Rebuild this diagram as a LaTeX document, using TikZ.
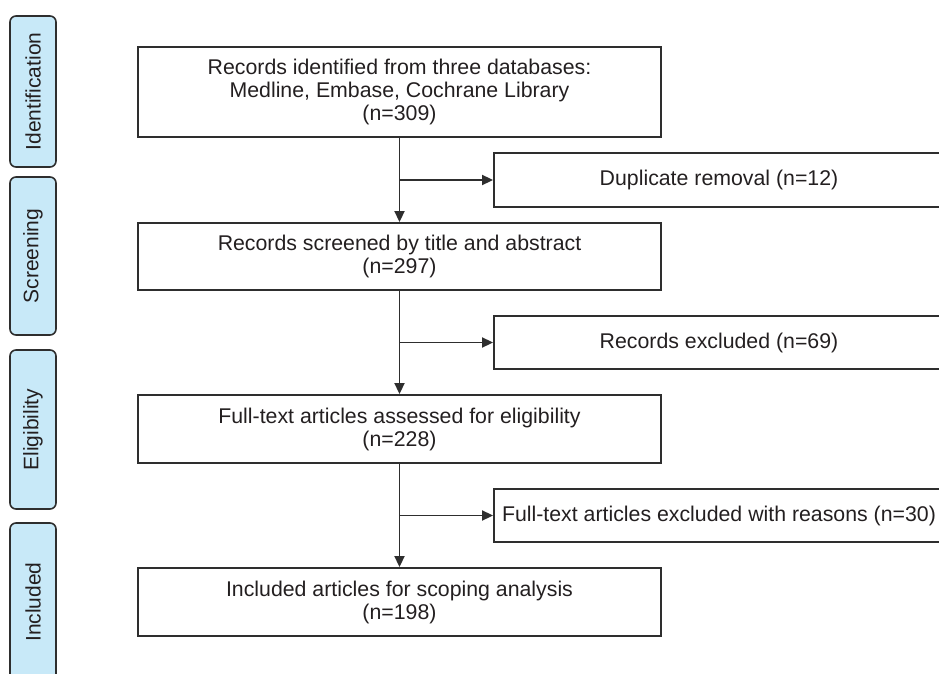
\documentclass[tikz,border=0pt]{standalone}
\usepackage{fontspec}
\setmainfont{Liberation Sans}
\usetikzlibrary{arrows.meta}
\definecolor{tabfill}{HTML}{C8E9F8}
\definecolor{linecol}{HTML}{2E2E2E}
\definecolor{txtcol}{HTML}{231F20}
\tikzset{
  box/.style={draw=linecol, line width=1.9pt, rectangle, align=center, inner sep=0pt,
    minimum width=523pt, text=txtcol, font=\fontsize{21.3}{23}\selectfont},
  sidebox/.style={draw=linecol, line width=1.9pt, rectangle, align=center, inner sep=0pt,
    minimum width=450pt, minimum height=54pt, text=txtcol, font=\fontsize{21.3}{23}\selectfont},
  phasetab/.style={draw=linecol, line width=1.6pt, fill=tabfill, rounded corners=6pt, rotate=90,
    inner sep=0pt, minimum height=46pt, text=txtcol, font=\fontsize{21}{23}\selectfont},
  arr/.style={draw=linecol, line width=1.9pt, -{Triangle[length=11pt,width=10pt]}},
  ln/.style={draw=linecol, line width=1.9pt}
}
\begin{document}
\begin{tikzpicture}[x=1pt,y=-1pt]
\useasboundingbox (0,0) rectangle (939,674);
\clip (0,0) rectangle (939,674);
% phase tabs
\node[phasetab, minimum width=151pt] (t1) at (33,91.5) {Identification};
\node[phasetab, minimum width=158pt] (t2) at (33,256) {Screening};
\node[phasetab, minimum width=159pt] (t3) at (33,429.5) {Eligibility};
\node[phasetab, minimum width=158pt] (t4) at (33,602) {Included};
% main boxes
\node[box, minimum height=90pt] (b1) at (399.5,92) {Records identified from three databases:\\Medline, Embase, Cochrane Library\\(n=309)};
\node[box, minimum height=67pt] (b2) at (399.5,256.5) {Records screened by title and abstract\\(n=297)};
\node[box, minimum height=68pt] (b3) at (399.5,429) {Full-text articles assessed for eligibility\\(n=228)};
\node[box, minimum height=68pt] (b4) at (399.5,602) {Included articles for scoping analysis\\(n=198)};
% side boxes
\node[sidebox] (d1) at (719,180) {Duplicate removal (n=12)};
\node[sidebox, minimum height=53pt] (d2) at (719,342.5) {Records excluded (n=69)};
\node[sidebox, minimum height=53pt] (d3) at (719,515.5) {Full-text articles excluded with reasons (n=30)};
% connectors
\draw[arr] (b1.south) -- (b2.north);
\draw[arr] (b1.south |- d1.west) -- (d1.west);
\draw[arr] (b2.south) -- (b3.north);
\draw[arr] (b2.south |- d2.west) -- (d2.west);
\draw[arr] (b3.south) -- (b4.north);
\draw[arr] (b3.south |- d3.west) -- (d3.west);
\end{tikzpicture}
\end{document}
